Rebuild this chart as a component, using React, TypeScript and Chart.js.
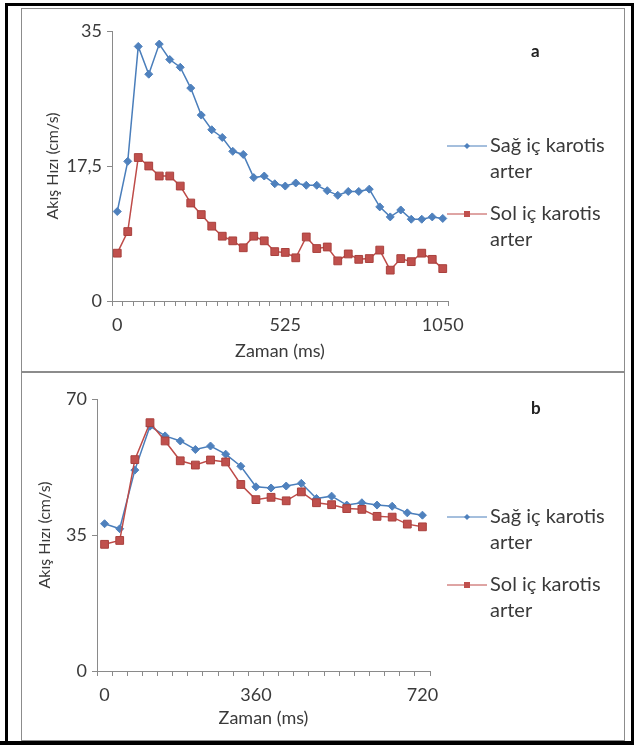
import React, { useEffect, useRef } from 'react';
import { Chart, registerables } from 'chart.js';

Chart.register(...registerables);

const FONT = 'Lato, "Open Sans", sans-serif';
const TEXT = '#3a3a3a';
const AXIS = '#8a8a8a';
const BLUE_LINE = '#4A7EBB';
const BLUE_MARK = '#4F81BD';
const RED_LINE = '#BE4B48';
const RED_MARK = '#C0504D';

const seriesNames = ['Sağ iç karotis arter', 'Sol iç karotis arter'];
const legendLines = [['Sağ iç karotis', 'arter'], ['Sol iç karotis', 'arter']];
const yTitle = 'Akış Hızı (cm/s)';
const xTitle = 'Zaman (ms)';

// Panel a
const aCategories = ['1','2','3','4','5','6','7','8','9','10','11','12','13','14','15','16','17','18','19','20','21','22','23','24','25','26','27','28','29','30','31','32'];
const aTickLabels = ['0', '525', '1050'];
const aTickAt = [0, 16, 31];
const aRight = [11.6, 18.1, 33.0, 29.4, 33.3, 31.3, 30.3, 27.6, 24.1, 22.2, 21.2, 19.4, 19.0, 16.0, 16.2, 15.2, 14.9, 15.3, 15.0, 15.0, 14.3, 13.7, 14.2, 14.2, 14.5, 12.2, 10.9, 11.8, 10.6, 10.6, 10.9, 10.7];
const aLeft = [6.2, 9.0, 18.6, 17.5, 16.2, 16.2, 14.9, 12.7, 11.2, 9.7, 8.4, 7.8, 6.9, 8.4, 7.8, 6.4, 6.3, 5.6, 8.3, 6.8, 7.0, 5.2, 6.1, 5.4, 5.5, 6.6, 4.0, 5.5, 5.1, 6.2, 5.4, 4.2];
const aYMax = 35;
const aYStep = 17.5;

// Panel b
const bCategories = ['1','2','3','4','5','6','7','8','9','10','11','12','13','14','15','16','17','18','19','20','21','22'];
const bTickLabels = ['0', '360', '720'];
const bTickAt = [0, 10, 21];
const bRight = [37.9, 36.6, 51.7, 63.0, 60.5, 59.2, 57.0, 57.9, 55.8, 52.7, 47.4, 47.1, 47.6, 48.3, 44.4, 45.0, 42.7, 43.3, 42.7, 42.4, 40.7, 40.1];
const bLeft = [32.6, 33.6, 54.4, 63.9, 59.2, 54.1, 53.0, 54.3, 53.8, 48.0, 44.1, 44.7, 43.8, 46.1, 43.3, 42.8, 41.8, 41.6, 39.8, 39.6, 37.8, 37.1];
const bYMax = 70;
const bYStep = 35;

type PanelProps = {
  categories: string[];
  right: number[];
  left: number[];
  yMax: number;
  yStep: number;
  tickAt: number[];
  tickLabels: string[];
  width: number;
  height: number;
  padTop: number;
  padRight: number;
  yAxisWidth: number;
  xAxisHeight: number;
  yTitlePad: number;
  xTitlePad: number;
  legendX: number;
  legendY: number;
  letter: string;
  letterX: number;
  letterY: number;
};

function drawDiamond(ctx: CanvasRenderingContext2D, x: number, y: number, r: number) {
  ctx.beginPath();
  ctx.moveTo(x, y - r);
  ctx.lineTo(x + r, y);
  ctx.lineTo(x, y + r);
  ctx.lineTo(x - r, y);
  ctx.closePath();
  ctx.fill();
}

function Panel(p: PanelProps) {
  const ref = useRef<HTMLCanvasElement | null>(null);
  useEffect(() => {
    if (!ref.current) return;
    const sideLegend = {
      id: 'sideLegend',
      afterDraw(chart: any) {
        const ctx = chart.ctx as CanvasRenderingContext2D;
        ctx.save();
        ctx.font = `20px ${FONT}`;
        ctx.textBaseline = 'middle';
        ctx.textAlign = 'left';
        const gap = 68;
        const lineH = 26;
        [0, 1].forEach((i) => {
          const y = p.legendY + i * gap;
          const x = p.legendX;
          ctx.strokeStyle = i === 0 ? BLUE_LINE : RED_LINE;
          ctx.lineWidth = 1;
          ctx.beginPath();
          ctx.moveTo(x, y);
          ctx.lineTo(x + 40, y);
          ctx.stroke();
          ctx.fillStyle = i === 0 ? BLUE_MARK : RED_MARK;
          if (i === 0) drawDiamond(ctx, x + 20, y, 3);
          else ctx.fillRect(x + 17, y - 3, 6, 6);
          ctx.fillStyle = TEXT;
          legendLines[i].forEach((t, k) => ctx.fillText(t, x + 43, y + k * lineH));
        });
        ctx.font = `bold 17px ${FONT}`;
        ctx.fillStyle = '#222';
        ctx.fillText(p.letter, p.letterX, p.letterY);
        ctx.restore();
      },
    };
    const chart = new Chart(ref.current, {
      type: 'line',
      data: {
        labels: p.categories,
        datasets: [
          {
            label: seriesNames[0],
            data: p.right,
            borderColor: BLUE_LINE,
            backgroundColor: BLUE_MARK,
            borderWidth: 1.5,
            pointStyle: 'rectRot',
            pointRadius: 4,
            pointBackgroundColor: BLUE_MARK,
            pointBorderColor: BLUE_MARK,
            pointBorderWidth: 1,
            tension: 0,
            order: 1,
          },
          {
            label: seriesNames[1],
            data: p.left,
            borderColor: RED_LINE,
            backgroundColor: RED_MARK,
            borderWidth: 1.5,
            pointStyle: 'rect',
            pointRadius: 5.5,
            pointBackgroundColor: RED_MARK,
            pointBorderColor: '#A9403D',
            pointBorderWidth: 1,
            tension: 0,
            order: 0,
          },
        ],
      },
      options: {
        animation: false,
        responsive: false,
        events: [],
        layout: { padding: { top: p.padTop, right: p.padRight, left: 0, bottom: 0 } },
        plugins: { legend: { display: false }, tooltip: { enabled: false } },
        scales: {
          x: {
            type: 'category',
            offset: true,
            grid: { offset: true, drawOnChartArea: false, drawTicks: true, tickLength: 5, color: AXIS },
            border: { color: AXIS, width: 1 },
            ticks: {
              autoSkip: false,
              maxRotation: 0,
              padding: 8,
              color: TEXT,
              font: { family: FONT, size: 18 },
              callback: (_v: any, i: number) => {
                const k = p.tickAt.indexOf(i);
                return k >= 0 ? p.tickLabels[k] : '';
              },
            },
            title: { display: true, text: xTitle, color: TEXT, font: { family: FONT, size: 18 }, padding: { top: 0, bottom: p.xTitlePad } },
            afterFit: (s: any) => { s.height = p.xAxisHeight; },
          },
          y: {
            min: 0,
            max: p.yMax,
            grid: { drawOnChartArea: false, drawTicks: true, tickLength: 5, color: AXIS },
            border: { color: AXIS, width: 1 },
            ticks: {
              stepSize: p.yStep,
              padding: 5,
              color: TEXT,
              font: { family: FONT, size: 18 },
              callback: (v: any) => String(v).replace('.', ','),
            },
            title: { display: true, text: yTitle, color: TEXT, font: { family: FONT, size: 16 }, padding: { top: p.yTitlePad, bottom: 0 } },
            afterFit: (s: any) => { s.width = p.yAxisWidth; },
          },
        },
      } as any,
      plugins: [sideLegend],
    });
    return () => chart.destroy();
  }, []);
  return <canvas ref={ref} width={p.width} height={p.height} style={{ display: 'block', width: p.width, height: p.height }} />;
}

export default function App() {
  return (
    <div style={{ position: 'absolute', left: 0, top: 0, width: 634, height: 745, background: '#fff', overflow: 'hidden' }}>
      <div style={{ position: 'absolute', left: 5, top: 3, width: 629, height: 745, boxSizing: 'border-box', borderLeft: '3px solid #000', borderTop: '3px solid #000', borderRight: '3px solid #000' }} />
      <div style={{ position: 'absolute', left: 0, top: 741, width: 634, height: 4, background: '#000' }} />
      <div style={{ position: 'absolute', left: 21, top: 8, width: 604, height: 364, boxSizing: 'border-box', border: '1px solid #8c8c8c' }}>
        <div style={{ position: 'absolute', left: -1, top: -1 }}>
          <Panel
            categories={aCategories}
            right={aRight}
            left={aLeft}
            yMax={aYMax}
            yStep={aYStep}
            tickAt={aTickAt}
            tickLabels={aTickLabels}
            width={604}
            height={364}
            padTop={23}
            padRight={177}
            yAxisWidth={91}
            xAxisHeight={71}
            yTitlePad={22}
            xTitlePad={10}
            legendX={426}
            legendY={138}
            letter="a"
            letterX={510}
            letterY={44}
          />
        </div>
      </div>
      <div style={{ position: 'absolute', left: 21, top: 372, width: 604, height: 369, boxSizing: 'border-box', border: '1px solid #8c8c8c' }}>
        <div style={{ position: 'absolute', left: -1, top: -1 }}>
          <Panel
            categories={bCategories}
            right={bRight}
            left={bLeft}
            yMax={bYMax}
            yStep={bYStep}
            tickAt={bTickAt}
            tickLabels={bTickLabels}
            width={604}
            height={369}
            padTop={27}
            padRight={195}
            yAxisWidth={76}
            xAxisHeight={70}
            yTitlePad={14}
            xTitlePad={12}
            legendX={426}
            legendY={145}
            letter="b"
            letterX={510}
            letterY={37}
          />
        </div>
      </div>
    </div>
  );
}
